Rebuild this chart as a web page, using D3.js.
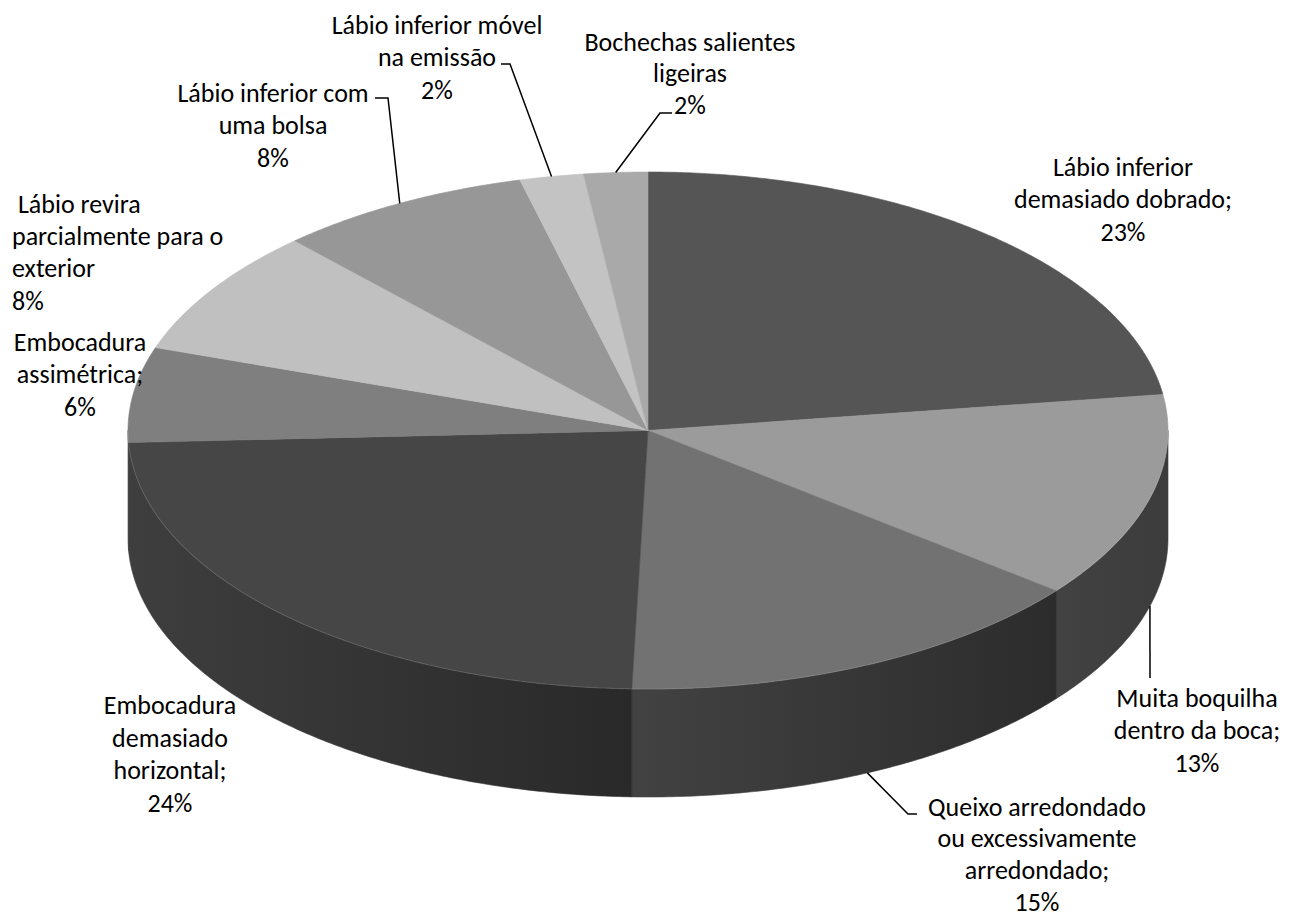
<!DOCTYPE html>
<html>
<head>
<meta charset="utf-8">
<script src="https://cdn.jsdelivr.net/npm/d3@7"></script>
<style>
  body { margin: 0; background: #ffffff; }
  svg { display: block; }
  text { font-family: Carlito, Lato, "Open Sans", sans-serif; font-size: 26px; fill: #000; }
</style>
</head>
<body>
<script>
// Slice names (one entry per text line) and their shares in percent
const categories = [
  ["Lábio inferior", "demasiado dobrado;"],
  ["Muita boquilha", "dentro da boca;"],
  ["Queixo arredondado", "ou excessivamente", "arredondado;"],
  ["Embocadura", "demasiado", "horizontal;"],
  ["Embocadura", "assimétrica;"],
  ["\u00a0Lábio revira", "parcialmente para o", "exterior"],
  ["Lábio inferior com", "uma bolsa"],
  ["Lábio inferior móvel", "na emissão"],
  ["Bochechas salientes", "ligeiras"]
];
const values = [23, 13, 15, 24, 6, 8, 8, 2, 2];

// Fill colours of the top faces and the shaded outer walls
const topColors  = ["#555555", "#9b9b9b", "#727272", "#464646", "#7f7f7f", "#c0c0c0", "#979797", "#c3c3c3", "#a9a9a9"];
const sideLight  = ["#3c3c3c", "#424242", "#424242", "#3e3e3e", "#4a4a4a", "#5a5a5a", "#4e4e4e", "#5a5a5a", "#505050"];
const sideDark   = ["#363636", "#3c3c3c", "#2c2c2c", "#292929", "#404040", "#505050", "#444444", "#505050", "#464646"];

// Label placement: anchor, x, centre of first line, line step, optional leader elbow points
const labelLayout = [
  { anchor: "middle", x: 1123, y: 167, step: 32.5 },
  { anchor: "middle", x: 1197, y: 698, step: 32.5, leader: [[1150, 678]] },
  { anchor: "middle", x: 1037, y: 807, step: 31.6, leader: [[908, 814], [917, 814]] },
  { anchor: "middle", x: 170,  y: 705, step: 32.7 },
  { anchor: "middle", x: 80,   y: 342, step: 32.5 },
  { anchor: "start",  x: 12,   y: 204, step: 32.3 },
  { anchor: "middle", x: 273,  y: 93,  step: 32.5, leader: [[388, 98], [375, 98]] },
  { anchor: "middle", x: 437,  y: 25,  step: 32.5, leader: [[510, 64], [501, 64]] },
  { anchor: "middle", x: 690,  y: 42,  step: 31.5, leader: [[660, 113], [672, 113]] }
];

const W = 1302, H = 917;
const cx = 648, cy = 430.5, rx = 520, ry = 258.5, depth = 108;

const svg = d3.select("body").append("svg").attr("width", W).attr("height", H);
const defs = svg.append("defs");

// Unit circle -> projected ellipse
const sx = d3.scaleLinear().domain([-1, 1]).range([cx - rx, cx + rx]);
const sy = d3.scaleLinear().domain([-1, 1]).range([cy - ry, cy + ry]);

const pie = d3.pie().value(d => d).sort(null);
const arcs = pie(values);

function pt(a, dz = 0) { return [sx(Math.sin(a)), sy(-Math.cos(a)) + dz]; }
function arcPts(a0, a1, dz = 0) {
  const n = Math.max(2, Math.ceil(Math.abs(a1 - a0) / (Math.PI / 360)));
  return d3.range(n + 1).map(i => pt(a0 + (a1 - a0) * i / n, dz));
}
const line = d3.line();

// Outer walls (front half only)
const sideG = svg.append("g");
arcs.forEach((d, i) => {
  const a0 = Math.max(d.startAngle, Math.PI / 2);
  const a1 = Math.min(d.endAngle, 3 * Math.PI / 2);
  if (a1 <= a0) return;
  const pts = arcPts(a0, a1).concat(arcPts(a1, a0, depth));
  const xs = pts.map(p => p[0]);
  const g = defs.append("linearGradient")
    .attr("id", "side" + i)
    .attr("gradientUnits", "userSpaceOnUse")
    .attr("x1", d3.min(xs)).attr("x2", d3.max(xs))
    .attr("y1", 0).attr("y2", 0);
  g.append("stop").attr("offset", 0).attr("stop-color", sideLight[i]);
  g.append("stop").attr("offset", 1).attr("stop-color", sideDark[i]);
  sideG.append("path")
    .attr("d", line(pts) + "Z")
    .attr("fill", `url(#side${i})`)
    .attr("stroke", `url(#side${i})`)
    .attr("stroke-width", 0.6);
});

// Top faces
const topG = svg.append("g");
arcs.forEach((d, i) => {
  const pts = [[cx, cy]].concat(arcPts(d.startAngle, d.endAngle));
  topG.append("path")
    .attr("d", line(pts) + "Z")
    .attr("fill", topColors[i])
    .attr("stroke", topColors[i])
    .attr("stroke-width", 0.6)
    .attr("stroke-linejoin", "round");
});

// Faint highlight along the front rim
svg.append("path")
  .attr("d", line(arcPts(Math.PI / 2, 3 * Math.PI / 2)))
  .attr("fill", "none")
  .attr("stroke", "rgba(255,255,255,0.10)")
  .attr("stroke-width", 1.2);

// Leader lines
const leaderG = svg.append("g");
arcs.forEach((d, i) => {
  const L = labelLayout[i];
  if (!L.leader) return;
  const mid = (d.startAngle + d.endAngle) / 2;
  const front = Math.cos(mid) < 0;
  const start = pt(mid, front ? depth : 0);
  leaderG.append("path")
    .attr("d", line([start].concat(L.leader)))
    .attr("fill", "none")
    .attr("stroke", "#000")
    .attr("stroke-width", 1.5);
});

// Data labels
const labelG = svg.append("g");
arcs.forEach((d, i) => {
  const L = labelLayout[i];
  const pct = values[i] + "%";
  const t = labelG.append("text")
    .attr("text-anchor", L.anchor)
    .attr("x", L.x);
  categories[i].concat([pct]).forEach((s, k) => {
    t.append("tspan")
      .attr("x", L.x)
      .attr("y", L.y + k * L.step)
      .attr("dy", "0.34em")
      .text(s);
  });
});
</script>
</body>
</html>
